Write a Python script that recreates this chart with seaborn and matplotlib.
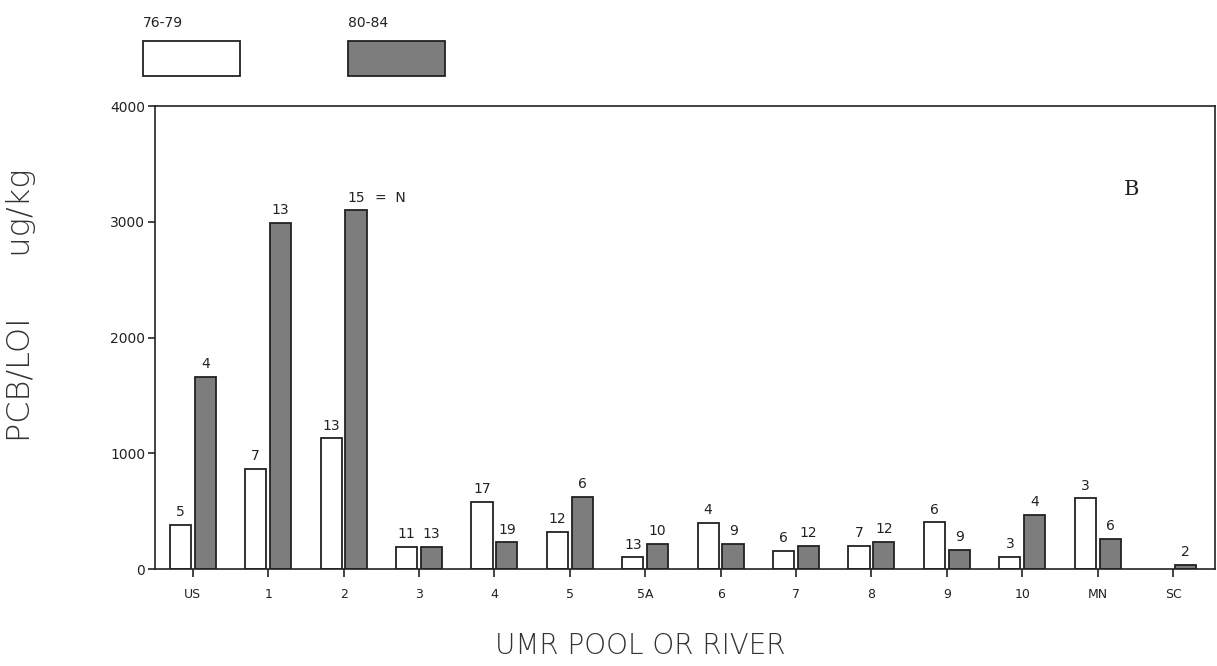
import numpy as np
import pandas as pd
import matplotlib
matplotlib.use("Agg")
import matplotlib.pyplot as plt
from matplotlib.patches import Rectangle
import seaborn as sns

sites = ["US", "1", "2", "3", "4", "5", "5A", "6", "7", "8", "9", "10", "MN", "SC"]
pcb_76_79 = [380, 864, 1130, 193, 582, 322, 103, 400, 158, 199, 403, 106, 613, np.nan]
pcb_80_84 = [1660, 2990, 3100, 193, 233, 625, 216, 216, 199, 236, 164, 467, 259, 35]
n_76_79 = ["5", "7", "13", "11", "17", "12", "13", "4", "6", "7", "6", "3", "3", ""]
n_80_84 = ["4", "13", "15", "13", "19", "6", "10", "9", "12", "12", "9", "4", "6", "2"]
periods = ["76-79", "80-84"]
yticks = [0, 1000, 2000, 3000, 4000]

df = pd.DataFrame({
    "site": sites * 2,
    "value": pcb_76_79 + pcb_80_84,
    "period": [periods[0]] * len(sites) + [periods[1]] * len(sites),
})

sns.set_style("ticks")
plt.rcParams["font.family"] = ["DejaVu Sans"]

fig = plt.figure(figsize=(12.17, 6.66), dpi=100)
ax = fig.add_axes([0.1274, 0.1456, 0.8706, 0.6952])

white_c = "#ffffff"
gray_c = "#7d7d7d"
sns.barplot(data=df, x="site", y="value", hue="period", order=sites, hue_order=periods,
            palette=[white_c, gray_c], width=0.66, gap=0.15, errorbar=None,
            edgecolor="#222222", linewidth=1.3, legend=False, ax=ax)

for cont, labs in zip(ax.containers, [n_76_79, n_80_84]):
    for patch, lab in zip(cont, labs):
        if patch is None or not lab:
            continue
        h = patch.get_height()
        if not np.isfinite(h):
            continue
        ax.annotate(lab, xy=(patch.get_x() + patch.get_width() / 2, h),
                    xytext=(0, 4), textcoords="offset points", fontsize=10,
                    color="#222222", ha="center", va="bottom")

# "= N" annotation next to site 2 late bar
p = ax.containers[1][sites.index("2")]
ax.annotate("=  N", xy=(p.get_x() + p.get_width(), p.get_height()),
            xytext=(6, 4), textcoords="offset points", fontsize=10,
            color="#222222", va="bottom", ha="left")

ax.set_ylim(0, 4000)
ax.set_xlim(-0.5, 13.55)
ax.set_yticks(yticks)
ax.set_yticklabels([str(t) for t in yticks], fontsize=10, color="#222222")
ax.tick_params(axis="x", labelsize=9, colors="#222222", length=6, width=1.2, direction="out", pad=8)
ax.tick_params(axis="y", length=5, width=1.2, direction="out", pad=2)
for s in ax.spines.values():
    s.set_visible(True)
    s.set_linewidth(1.2)
    s.set_color("#222222")

ax.set_xlabel("UMR POOL OR RIVER", fontsize=20, color="#333333", fontweight="light")
ax.xaxis.set_label_coords(0.458, -0.135)
ax.set_ylabel("PCB/LOI      ug/kg", fontsize=23, color="#333333", fontweight="light")
ax.yaxis.set_label_coords(-0.112, 0.57)

ax.text(0.922, 0.82, "B", transform=ax.transAxes, fontsize=15,
        family="DejaVu Serif", color="#222222", ha="center", va="center")

# Legend drawn above the axes
for x0, lab, col in [(0.1175, periods[0], white_c), (0.286, periods[1], gray_c)]:
    fig.patches.append(Rectangle((x0, 0.886), 0.0797, 0.0526, transform=fig.transFigure,
                                 facecolor=col, edgecolor="#222222", linewidth=1.3))
    fig.text(x0, 0.955, lab, fontsize=10, color="#222222", ha="left", va="bottom")

fig.savefig("out.png", dpi=100)
